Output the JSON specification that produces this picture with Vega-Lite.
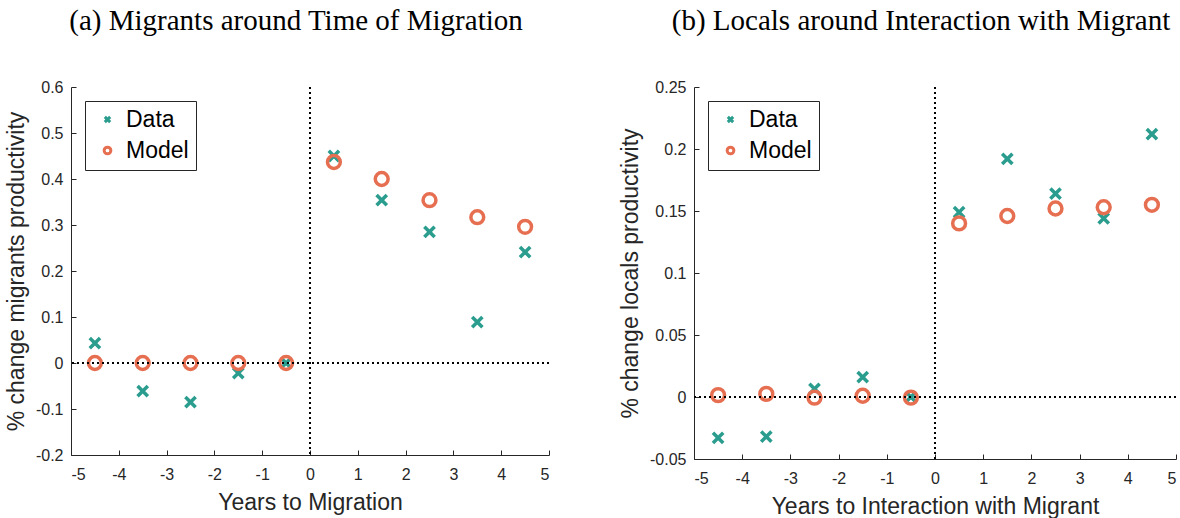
{
  "$schema": "https://vega.github.io/schema/vega-lite/v6.json",
  "background": "white",
  "padding": {"left": 5, "top": 7, "right": 0, "bottom": 0},
  "config": {
    "view": {"stroke": null},
    "font": "Liberation Sans",
    "axis": {
      "labelFont": "Liberation Sans", "labelFontSize": 16, "labelColor": "#262626",
      "titleFont": "Liberation Sans", "titleFontSize": 23, "titleFontWeight": "normal", "titleColor": "#262626",
      "domainColor": "#262626", "tickColor": "#262626", "grid": false,
      "tickSize": -5
    },
    "axisX": {"labelPadding": 16, "titlePadding": 9},
    "axisY": {"labelPadding": 13, "titlePadding": 7},
    "title": {"font": "Liberation Serif", "fontSize": 29, "fontWeight": "normal", "color": "black", "anchor": "middle", "offset": 43, "dx": -14},
    "legend": {
      "strokeColor": "#262626", "fillColor": "white", "padding": 7,
      "labelFont": "Liberation Sans", "labelFontSize": 23, "labelColor": "black",
      "symbolSize": 45, "symbolStrokeWidth": 3, "rowPadding": 7, "labelOffset": 7, "symbolOffset": 4
    }
  },
  "datasets": {
    "a": [
      {"t": -4.5, "series": "Data", "value": 0.043},
      {"t": -3.5, "series": "Data", "value": -0.061},
      {"t": -2.5, "series": "Data", "value": -0.085},
      {"t": -1.5, "series": "Data", "value": -0.022},
      {"t": -0.5, "series": "Data", "value": 0.0},
      {"t": 0.5, "series": "Data", "value": 0.45},
      {"t": 1.5, "series": "Data", "value": 0.354},
      {"t": 2.5, "series": "Data", "value": 0.285},
      {"t": 3.5, "series": "Data", "value": 0.089},
      {"t": 4.5, "series": "Data", "value": 0.241},
      {"t": -4.5, "series": "Model", "value": 0.0},
      {"t": -3.5, "series": "Model", "value": 0.0},
      {"t": -2.5, "series": "Model", "value": 0.0},
      {"t": -1.5, "series": "Model", "value": 0.0},
      {"t": -0.5, "series": "Model", "value": 0.0},
      {"t": 0.5, "series": "Model", "value": 0.437},
      {"t": 1.5, "series": "Model", "value": 0.4},
      {"t": 2.5, "series": "Model", "value": 0.354},
      {"t": 3.5, "series": "Model", "value": 0.317},
      {"t": 4.5, "series": "Model", "value": 0.296}
    ],
    "b": [
      {"t": -4.5, "series": "Data", "value": -0.033},
      {"t": -3.5, "series": "Data", "value": -0.032},
      {"t": -2.5, "series": "Data", "value": 0.0065},
      {"t": -1.5, "series": "Data", "value": 0.016},
      {"t": -0.5, "series": "Data", "value": 0.0},
      {"t": 0.5, "series": "Data", "value": 0.149},
      {"t": 1.5, "series": "Data", "value": 0.192},
      {"t": 2.5, "series": "Data", "value": 0.164},
      {"t": 3.5, "series": "Data", "value": 0.144},
      {"t": 4.5, "series": "Data", "value": 0.212},
      {"t": -4.5, "series": "Model", "value": 0.0015},
      {"t": -3.5, "series": "Model", "value": 0.0025},
      {"t": -2.5, "series": "Model", "value": -0.0005},
      {"t": -1.5, "series": "Model", "value": 0.001},
      {"t": -0.5, "series": "Model", "value": -0.0005},
      {"t": 0.5, "series": "Model", "value": 0.14},
      {"t": 1.5, "series": "Model", "value": 0.146},
      {"t": 2.5, "series": "Model", "value": 0.152},
      {"t": 3.5, "series": "Model", "value": 0.153},
      {"t": 4.5, "series": "Model", "value": 0.155}
    ]
  },
  "spacing": 69,
  "resolve": {
    "scale": {"x": "independent", "y": "independent", "color": "independent", "shape": "independent"},
    "legend": {"color": "independent", "shape": "independent"}
  },
  "hconcat": [
    {
      "width": 478, "height": 368,
      "title": "(a) Migrants around Time of Migration",
      "layer": [
        {
          "data": {"name": "a"},
          "mark": {"type": "point", "filled": false, "strokeWidth": 3.5, "opacity": 1, "size": 165},
          "encoding": {
            "x": {"field": "t", "type": "quantitative",
              "scale": {"domain": [-5, 5], "nice": false, "zero": false},
              "axis": {"values": [-5, -4, -3, -2, -1, 0, 1, 2, 3, 4, 5], "title": "Years to Migration", "labelExpr": "'' + datum.value"}},
            "y": {"field": "value", "type": "quantitative",
              "scale": {"domain": [-0.2, 0.6], "nice": false, "zero": false},
              "axis": {"values": [-0.2, -0.1, 0, 0.1, 0.2, 0.3, 0.4, 0.5, 0.6], "title": "% change migrants productivity", "labelExpr": "'' + datum.value"}},
            "color": {"field": "series", "type": "nominal", "scale": {"domain": ["Data", "Model"], "range": ["#2a9d8f", "#e76f51"]},
              "legend": {"orient": "top-left", "offset": 14, "title": null}},
            "shape": {"field": "series", "type": "nominal", "scale": {"domain": ["Data", "Model"], "range": ["M-0.8,-0.8L0.8,0.8M-0.8,0.8L0.8,-0.8", "circle"]},
              "legend": {"orient": "top-left", "offset": 14, "title": null}}
          }
        },
        {
          "data": {"values": [{}]},
          "mark": {"type": "rule", "strokeDash": [2, 3], "strokeWidth": 2, "color": "black"},
          "encoding": {"x": {"datum": 0, "type": "quantitative"}}
        },
        {
          "data": {"values": [{}]},
          "mark": {"type": "rule", "strokeDash": [2, 3], "strokeWidth": 2, "color": "black"},
          "encoding": {"y": {"datum": 0, "type": "quantitative"}}
        }
      ]
    },
    {
      "width": 482, "height": 372,
      "title": "(b) Locals around Interaction with Migrant",
      "layer": [
        {
          "data": {"name": "b"},
          "mark": {"type": "point", "filled": false, "strokeWidth": 3.5, "opacity": 1, "size": 165},
          "encoding": {
            "x": {"field": "t", "type": "quantitative",
              "scale": {"domain": [-5, 5], "nice": false, "zero": false},
              "axis": {"values": [-5, -4, -3, -2, -1, 0, 1, 2, 3, 4, 5], "title": "Years to Interaction with Migrant", "labelExpr": "'' + datum.value"}},
            "y": {"field": "value", "type": "quantitative",
              "scale": {"domain": [-0.05, 0.25], "nice": false, "zero": false},
              "axis": {"values": [-0.05, 0, 0.05, 0.1, 0.15, 0.2, 0.25], "title": "% change locals productivity", "labelExpr": "'' + datum.value"}},
            "color": {"field": "series", "type": "nominal", "scale": {"domain": ["Data", "Model"], "range": ["#2a9d8f", "#e76f51"]},
              "legend": {"orient": "top-left", "offset": 14, "title": null}},
            "shape": {"field": "series", "type": "nominal", "scale": {"domain": ["Data", "Model"], "range": ["M-0.8,-0.8L0.8,0.8M-0.8,0.8L0.8,-0.8", "circle"]},
              "legend": {"orient": "top-left", "offset": 14, "title": null}}
          }
        },
        {
          "data": {"values": [{}]},
          "mark": {"type": "rule", "strokeDash": [2, 3], "strokeWidth": 2, "color": "black"},
          "encoding": {"x": {"datum": 0, "type": "quantitative"}}
        },
        {
          "data": {"values": [{}]},
          "mark": {"type": "rule", "strokeDash": [2, 3], "strokeWidth": 2, "color": "black"},
          "encoding": {"y": {"datum": 0, "type": "quantitative"}}
        }
      ]
    }
  ]
}
